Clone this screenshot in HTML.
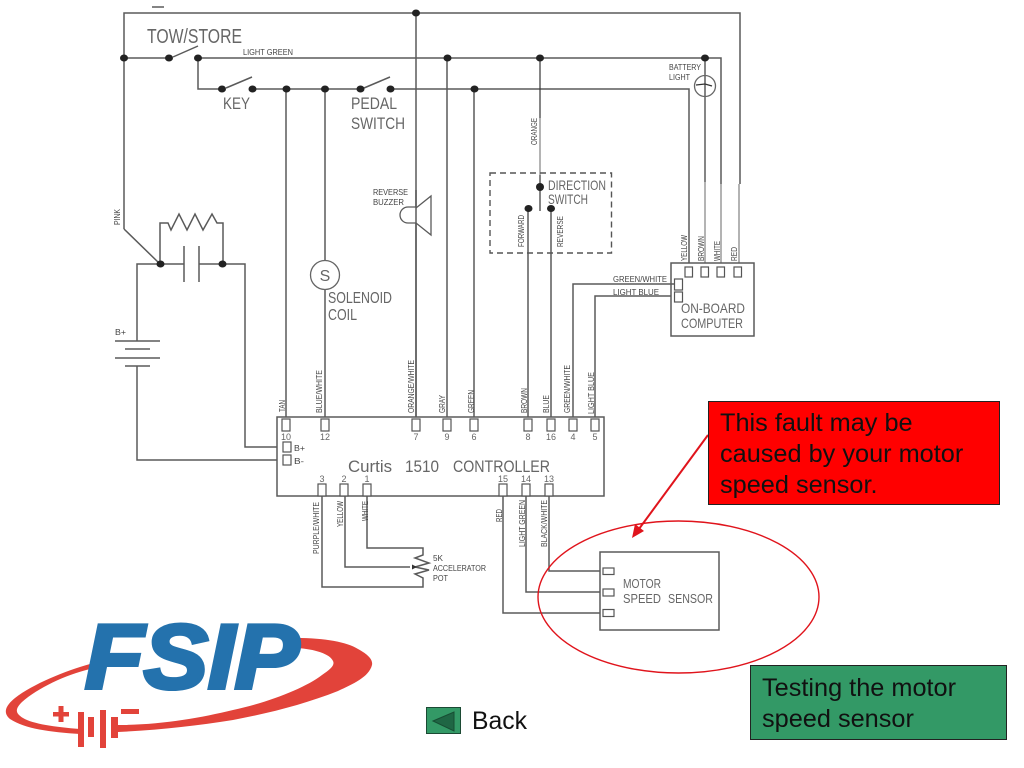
<!DOCTYPE html>
<html>
<head>
<meta charset="utf-8">
<style>
html,body{margin:0;padding:0;background:#fff;width:1024px;height:768px;overflow:hidden}
svg{display:block}
text{font-family:"Liberation Sans",sans-serif}
.w{fill:none;stroke:#5a5a5a;stroke-width:1.5}
.l{fill:none;stroke:#9a9a9a;stroke-width:1.5}
.k{fill:none;stroke:#333;stroke-width:1.2}
.p{fill:#fff;stroke:#555;stroke-width:1.2}
.d{fill:#222}
.t{fill:#666}
.s{fill:#444;font-size:8.5px}
.n{fill:#666;font-size:9px;text-anchor:middle}
.c{fill:#111;font-size:25.3px}
</style>
</head>
<body>
<svg width="1024" height="768" viewBox="0 0 1024 768" xmlns="http://www.w3.org/2000/svg">
<g style="filter:blur(0.35px)">
<!-- wires -->
<path class="w" d="M152 7H164"/>
<path class="w" d="M124 229V13H740V184"/>
<path class="w" d="M124 229L160 264"/>
<path class="w" d="M124 58H169M173 57L198 46M198 58H721V184"/>
<path class="l" d="M721 184V263M739 184V263"/>
<path class="w" d="M222 89H198V58"/>
<path class="w" d="M226 88L252 77M252 89H360M364 88L390 77M390 89H689V263"/>
<path class="w" d="M286 89V417M325 89V260M325 290V417M416 13V417M447 58V417M474 89V417"/>
<path class="k" d="M540 58V118"/><path class="l" d="M540 118V175"/><path class="k" d="M540 175V211"/>
<path class="w" d="M528 208V417M551 208V417"/>
<path class="k" d="M705 58V182"/><path class="l" d="M705 182V263"/>
<circle cx="705" cy="86" r="10.500" fill="none" stroke="#666" stroke-width="1.300"/>
<path class="k" d="M696 85L705 84L712 86"/>
<!-- dashed box -->
<rect x="490" y="173" width="121.500" height="80" fill="none" stroke="#555" stroke-width="1.400" stroke-dasharray="6 4"/>
<!-- buzzer -->
<path d="M416 208L431 196V235L416 223M416 207H408A8 8 0 0 0 408 223H416" fill="#fff" stroke="#5a5a5a" stroke-width="1.300"/>
<path class="w" d="M416 190V417"/>
<!-- solenoid -->
<circle cx="325" cy="275" r="14.500" fill="#fff" stroke="#666" stroke-width="1.300"/>
<!-- left circuit -->
<path class="w" d="M137 341V264H184M199 264H245V447H277"/>
<path class="w" d="M184 246V282M199 246V282"/>
<path class="w" d="M160 264V223H168L171 230L179 214L187 230L195 214L203 230L212 214L217 223H223V264"/>
<path class="w" d="M115 341H160M125 349H150M115 358H160M125 366H150M137 366V460H277"/>
<!-- controller -->
<rect x="277" y="417" width="327" height="79" fill="#fff" stroke="#5a5a5a" stroke-width="1.500"/>
<g class="p">
<rect x="282" y="419" width="8" height="12"/><rect x="321" y="419" width="8" height="12"/><rect x="412" y="419" width="8" height="12"/>
<rect x="443" y="419" width="8" height="12"/><rect x="470" y="419" width="8" height="12"/><rect x="524" y="419" width="8" height="12"/>
<rect x="547" y="419" width="8" height="12"/><rect x="569" y="419" width="8" height="12"/><rect x="591" y="419" width="8" height="12"/>
<rect x="283" y="442" width="8" height="10"/><rect x="283" y="455" width="8" height="10"/>
<rect x="318" y="484" width="8" height="12"/><rect x="340" y="484" width="8" height="12"/><rect x="363" y="484" width="8" height="12"/>
<rect x="499" y="484" width="8" height="12"/><rect x="522" y="484" width="8" height="12"/><rect x="545" y="484" width="8" height="12"/>
</g>
<!-- on-board -->
<rect x="671" y="263" width="83" height="73" fill="#fff" stroke="#5a5a5a" stroke-width="1.500"/>
<g class="p">
<rect x="685" y="267" width="7.500" height="10"/><rect x="701" y="267" width="7.500" height="10"/><rect x="717" y="267" width="7.500" height="10"/><rect x="734" y="267" width="7.500" height="10"/>
</g>
<path class="w" d="M573 417V284H674M595 417V296H671"/>
<g class="p"><rect x="674.500" y="279" width="8" height="11"/><rect x="674.500" y="292" width="8" height="10"/></g>
<!-- pot -->
<path class="w" d="M322 496V587H423V578L415 574L429 570L415 567L429 563L415 558L423 555V548H367V496"/>
<path class="w" d="M345 496V567H410"/>
<path d="M412 564.500L417 567L412 569.500Z" fill="#333"/>
<!-- motor -->
<path class="w" d="M549 496V571H600M526 496V592H600M503 496V613H600"/>
<rect x="600" y="552" width="119" height="78" fill="#fff" stroke="#5a5a5a" stroke-width="1.500"/>
<g class="p"><rect x="603" y="568" width="11" height="6.500"/><rect x="603" y="589" width="11" height="7"/><rect x="603" y="609.500" width="11" height="7"/></g>
<!-- dots -->
<g class="d">
<ellipse cx="416" cy="13" rx="4" ry="3.500"/><ellipse cx="124" cy="58" rx="4" ry="3.500"/><ellipse cx="169" cy="58" rx="4" ry="3.500"/><ellipse cx="198" cy="58" rx="4" ry="3.500"/>
<ellipse cx="447.500" cy="58" rx="4" ry="3.500"/><ellipse cx="540" cy="58" rx="4" ry="3.500"/><ellipse cx="705" cy="58" rx="4" ry="3.500"/>
<ellipse cx="222" cy="89" rx="4" ry="3.500"/><ellipse cx="252.500" cy="89" rx="4" ry="3.500"/><ellipse cx="286.500" cy="89" rx="4" ry="3.500"/><ellipse cx="325" cy="89" rx="4" ry="3.500"/>
<ellipse cx="360.500" cy="89" rx="4" ry="3.500"/><ellipse cx="390.500" cy="89" rx="4" ry="3.500"/><ellipse cx="474.500" cy="89" rx="4" ry="3.500"/>
<ellipse cx="540" cy="187" rx="4" ry="4"/><ellipse cx="528.500" cy="208.500" rx="4" ry="3.500"/><ellipse cx="551" cy="208.500" rx="4" ry="3.500"/>
<ellipse cx="160.500" cy="264" rx="4" ry="3.500"/><ellipse cx="222.500" cy="264" rx="4" ry="3.500"/>
</g>
<!-- large CAD labels -->
<g class="t">
<text x="147" y="43" font-size="20" textLength="95" lengthAdjust="spacingAndGlyphs">TOW/STORE</text>
<text x="223" y="109" font-size="17" textLength="27" lengthAdjust="spacingAndGlyphs">KEY</text>
<text x="351" y="109" font-size="17" textLength="46" lengthAdjust="spacingAndGlyphs">PEDAL</text>
<text x="351" y="129" font-size="17" textLength="54" lengthAdjust="spacingAndGlyphs">SWITCH</text>
<text x="548" y="190" font-size="14" textLength="58" lengthAdjust="spacingAndGlyphs">DIRECTION</text>
<text x="548" y="204" font-size="14" textLength="40" lengthAdjust="spacingAndGlyphs">SWITCH</text>
<text x="325" y="281" font-size="16" text-anchor="middle">S</text>
<text x="328" y="303" font-size="15.500" textLength="64" lengthAdjust="spacingAndGlyphs">SOLENOID</text>
<text x="328" y="320" font-size="15.500" textLength="29" lengthAdjust="spacingAndGlyphs">COIL</text>
<text x="681" y="313" font-size="14" textLength="64" lengthAdjust="spacingAndGlyphs">ON-BOARD</text>
<text x="681" y="328" font-size="14" textLength="62" lengthAdjust="spacingAndGlyphs">COMPUTER</text>
<text x="348" y="472" font-size="17" textLength="44" lengthAdjust="spacingAndGlyphs">Curtis</text>
<text x="405" y="472" font-size="17" textLength="34" lengthAdjust="spacingAndGlyphs">1510</text>
<text x="453" y="472" font-size="17" textLength="97" lengthAdjust="spacingAndGlyphs">CONTROLLER</text>
<text x="623" y="588" font-size="12.500" textLength="38" lengthAdjust="spacingAndGlyphs">MOTOR</text>
<text x="623" y="603" font-size="12.500" textLength="38" lengthAdjust="spacingAndGlyphs">SPEED</text>
<text x="668" y="603" font-size="12.500" textLength="45" lengthAdjust="spacingAndGlyphs">SENSOR</text>
</g>
<!-- small labels -->
<g class="s">
<text x="243" y="55" font-size="8" textLength="50" lengthAdjust="spacingAndGlyphs">LIGHT GREEN</text>
<text x="373" y="195" textLength="35" lengthAdjust="spacingAndGlyphs">REVERSE</text>
<text x="373" y="205" textLength="31" lengthAdjust="spacingAndGlyphs">BUZZER</text>
<text x="669" y="70" textLength="32" lengthAdjust="spacingAndGlyphs">BATTERY</text>
<text x="669" y="80" textLength="21" lengthAdjust="spacingAndGlyphs">LIGHT</text>
<text x="613" y="282" textLength="54" lengthAdjust="spacingAndGlyphs">GREEN/WHITE</text>
<text x="613" y="295" textLength="46" lengthAdjust="spacingAndGlyphs">LIGHT BLUE</text>
<text x="115" y="335" textLength="11" lengthAdjust="spacingAndGlyphs">B+</text>
<text x="294" y="451" textLength="11" lengthAdjust="spacingAndGlyphs">B+</text>
<text x="294" y="464" textLength="10" lengthAdjust="spacingAndGlyphs">B-</text>
<text x="433" y="561" textLength="10" lengthAdjust="spacingAndGlyphs">5K</text>
<text x="433" y="571" textLength="53" lengthAdjust="spacingAndGlyphs">ACCELERATOR</text>
<text x="433" y="581" textLength="15" lengthAdjust="spacingAndGlyphs">POT</text>
<text transform="translate(120,225) rotate(-90)" textLength="16" lengthAdjust="spacingAndGlyphs">PINK</text>
<text transform="translate(537,145) rotate(-90)" textLength="27" lengthAdjust="spacingAndGlyphs">ORANGE</text>
<text transform="translate(524,247) rotate(-90)" textLength="32" lengthAdjust="spacingAndGlyphs">FORWARD</text>
<text transform="translate(563,247) rotate(-90)" textLength="31" lengthAdjust="spacingAndGlyphs">REVERSE</text>
<text transform="translate(687,261) rotate(-90)" textLength="26" lengthAdjust="spacingAndGlyphs">YELLOW</text>
<text transform="translate(704,261) rotate(-90)" textLength="25" lengthAdjust="spacingAndGlyphs">BROWN</text>
<text transform="translate(720,261) rotate(-90)" textLength="20" lengthAdjust="spacingAndGlyphs">WHITE</text>
<text transform="translate(737,261) rotate(-90)" textLength="14" lengthAdjust="spacingAndGlyphs">RED</text>
<text transform="translate(285,412) rotate(-90)" textLength="12" lengthAdjust="spacingAndGlyphs">TAN</text>
<text transform="translate(322,413) rotate(-90)" textLength="43" lengthAdjust="spacingAndGlyphs">BLUE/WHITE</text>
<text transform="translate(414,413) rotate(-90)" textLength="53" lengthAdjust="spacingAndGlyphs">ORANGE/WHITE</text>
<text transform="translate(445,413) rotate(-90)" textLength="18" lengthAdjust="spacingAndGlyphs">GRAY</text>
<text transform="translate(474,413) rotate(-90)" textLength="23" lengthAdjust="spacingAndGlyphs">GREEN</text>
<text transform="translate(527,413) rotate(-90)" textLength="25" lengthAdjust="spacingAndGlyphs">BROWN</text>
<text transform="translate(549,413) rotate(-90)" textLength="18" lengthAdjust="spacingAndGlyphs">BLUE</text>
<text transform="translate(570,413) rotate(-90)" textLength="48" lengthAdjust="spacingAndGlyphs">GREEN/WHITE</text>
<text transform="translate(594,414) rotate(-90)" textLength="42" lengthAdjust="spacingAndGlyphs">LIGHT BLUE</text>
<text transform="translate(319,554) rotate(-90)" textLength="52" lengthAdjust="spacingAndGlyphs">PURPLE/WHITE</text>
<text transform="translate(343,527) rotate(-90)" textLength="26" lengthAdjust="spacingAndGlyphs">YELLOW</text>
<text transform="translate(368,521) rotate(-90)" textLength="20" lengthAdjust="spacingAndGlyphs">WHITE</text>
<text transform="translate(502,522) rotate(-90)" textLength="13" lengthAdjust="spacingAndGlyphs">RED</text>
<text transform="translate(525,547) rotate(-90)" textLength="47" lengthAdjust="spacingAndGlyphs">LIGHT GREEN</text>
<text transform="translate(547,547) rotate(-90)" textLength="47" lengthAdjust="spacingAndGlyphs">BLACK/WHITE</text>
</g>
<g class="n">
<text x="286" y="440">10</text><text x="325" y="440">12</text><text x="416" y="440">7</text><text x="447" y="440">9</text><text x="474" y="440">6</text>
<text x="528" y="440">8</text><text x="551" y="440">16</text><text x="573" y="440">4</text><text x="595" y="440">5</text>
<text x="322" y="482">3</text><text x="344" y="482">2</text><text x="367" y="482">1</text><text x="503" y="482">15</text><text x="526" y="482">14</text><text x="549" y="482">13</text>
</g>
</g>
<!-- callouts -->
<ellipse cx="678.500" cy="597" rx="140.500" ry="76" fill="none" stroke="#e0141c" stroke-width="1.400"/>
<path d="M708 435L636 533" stroke="#e0141c" stroke-width="2" fill="none"/>
<path d="M632 538L635 524L644 531Z" fill="#e0141c"/>
<rect x="708.500" y="401.500" width="291" height="103" fill="#ff0000" stroke="#222" stroke-width="1"/>
<text class="c" x="720" y="431">This fault may be</text>
<text class="c" x="720" y="462">caused by your motor</text>
<text class="c" x="720" y="493">speed sensor.</text>
<rect x="750.500" y="665.500" width="256" height="74" fill="#339966" stroke="#222" stroke-width="1"/>
<text class="c" x="762" y="696">Testing the motor</text>
<text class="c" x="762" y="727">speed sensor</text>
<!-- back -->
<rect x="426.500" y="707.500" width="34" height="26" fill="#339966" stroke="#1c4a34" stroke-width="1"/>
<path d="M433 721L454 712V731Z" fill="#1f6644" stroke="#174d33" stroke-width="1"/>
<text class="c" x="472" y="729" textLength="55" lengthAdjust="spacingAndGlyphs">Back</text>
<!-- logo -->
<path fill="#e2433a" d="M296 638C325 638 347 642 358 649C369 655 373 660 372 665C369 677 353 684 338 691C305 704 270 713 233 720C195 726 160 730 118 732V725C160 725 200 718 233 710C270 702 305 688 322 675C331 669 335 665 333 661C330 654 315 649 296 648Z"/>
<path fill="#e2433a" d="M90 664C65 671 33 684 15 698C5 706 3 713 10 719C25 729 50 732 80 734V729C55 727 33 724 23 718C15 713 15 709 22 702C38 688 65 675 90 669Z"/>
<g fill="#e2433a">
<rect x="78" y="712" width="6" height="35"/><rect x="88" y="717" width="6" height="20"/><rect x="100" y="710" width="6" height="38"/><rect x="111" y="717" width="7" height="21"/>
<rect x="53" y="712" width="16" height="4.500"/><rect x="58.500" y="706" width="5" height="16"/><rect x="121" y="709" width="18" height="5"/>
</g>
<text x="85" y="688" font-size="91" font-weight="bold" font-style="italic" fill="#2472ad" stroke="#2472ad" stroke-width="4" textLength="214" lengthAdjust="spacingAndGlyphs">FSIP</text>
</svg>
</body>
</html>
